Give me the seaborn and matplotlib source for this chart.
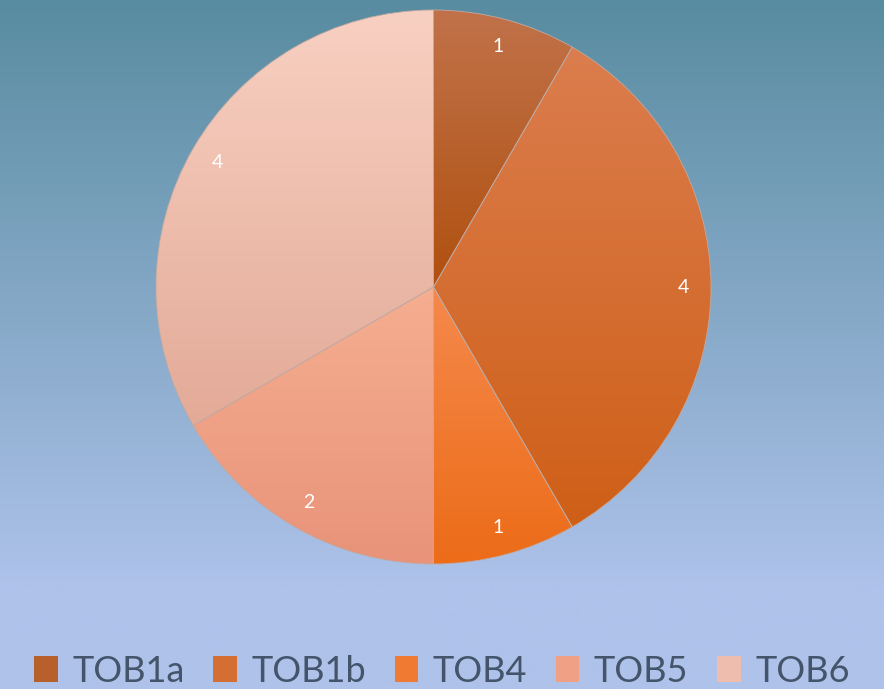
import numpy as np
import matplotlib
matplotlib.use("Agg")
import matplotlib.pyplot as plt
import seaborn as sns
from matplotlib.colors import to_rgb
from matplotlib.patches import Patch

sns.set_theme(style="white")
plt.rcParams['font.family'] = ['Lato', 'DejaVu Sans']

categories = ["TOB1a", "TOB1b", "TOB4", "TOB5", "TOB6"]
values = [1, 4, 1, 2, 4]
top_colors = ["#c1724a", "#db7d4e", "#f5894c", "#f6ae90", "#f8d0c2"]
bottom_colors = ["#b0500f", "#cf5f17", "#ec6c18", "#e8937a", "#e3aa97"]
mid_colors = ["#b8602c", "#d56e33", "#f07a32", "#efa085", "#eebdad"]

fig = plt.figure(figsize=(8.84, 6.89), dpi=100)

# background gradient
bg = fig.add_axes([0, 0, 1, 1], zorder=-5)
c_top = np.array(to_rgb("#588ca0"))
c_bot = np.array(to_rgb("#aec2ea"))
t = np.linspace(0, 1, 256)[:, None]
tb = np.clip(t / 0.85, 0, 1)
grad = (c_top[None, :] * (1 - tb) + c_bot[None, :] * tb)[:, None, :]
bg.imshow(grad, aspect="auto", extent=[0, 1, 0, 1])
bg.set_axis_off()

W, H = 884, 689
l, r_, tp, bt = 156, 711, 10, 564
ax = fig.add_axes([l / W, (H - bt) / H, (r_ - l) / W, (bt - tp) / H])
ax.set_facecolor("none")

total = sum(values)
wedges, texts, autotexts = ax.pie(
    values, startangle=90, counterclock=False, colors=mid_colors,
    autopct=lambda p: f"{round(p * total / 100)}", pctdistance=0.9,
    wedgeprops=dict(edgecolor="#c0aaa2", linewidth=0.6),
    textprops=dict(color="white", fontsize=14),
)

for i, w in enumerate(wedges):
    th = np.linspace(np.radians(w.theta1), np.radians(w.theta2), 200)
    ys = np.concatenate([np.sin(th) * w.r, [0]])
    xs = np.concatenate([np.cos(th) * w.r, [0]])
    y0, y1 = ys.min(), ys.max()
    x0, x1 = xs.min(), xs.max()
    ct = np.array(to_rgb(top_colors[i]))
    cb = np.array(to_rgb(bottom_colors[i]))
    g = (ct[None, :] * (1 - t) + cb[None, :] * t)[:, None, :]
    im = ax.imshow(g, aspect="auto", extent=[x0, x1, y0, y1], zorder=1.5)
    im.set_clip_path(w)
    w.set_facecolor("none")
    w.set_zorder(2)
for a in autotexts:
    a.set_zorder(5)
ax.set_xlim(-1.0, 1.0)
ax.set_ylim(-1.0, 1.0)
ax.set_aspect("auto")
ax.set_axis_off()

handles = [Patch(facecolor=c, edgecolor="none") for c in mid_colors]
fig.legend(handles, categories, loc="lower center", bbox_to_anchor=(0.5, -0.045),
           ncol=5, frameon=False, fontsize=26, labelcolor="#44546a",
           handlelength=0.65, handleheight=0.7, handletextpad=0.4,
           columnspacing=0.8)

fig.savefig("out.png", dpi=100)
